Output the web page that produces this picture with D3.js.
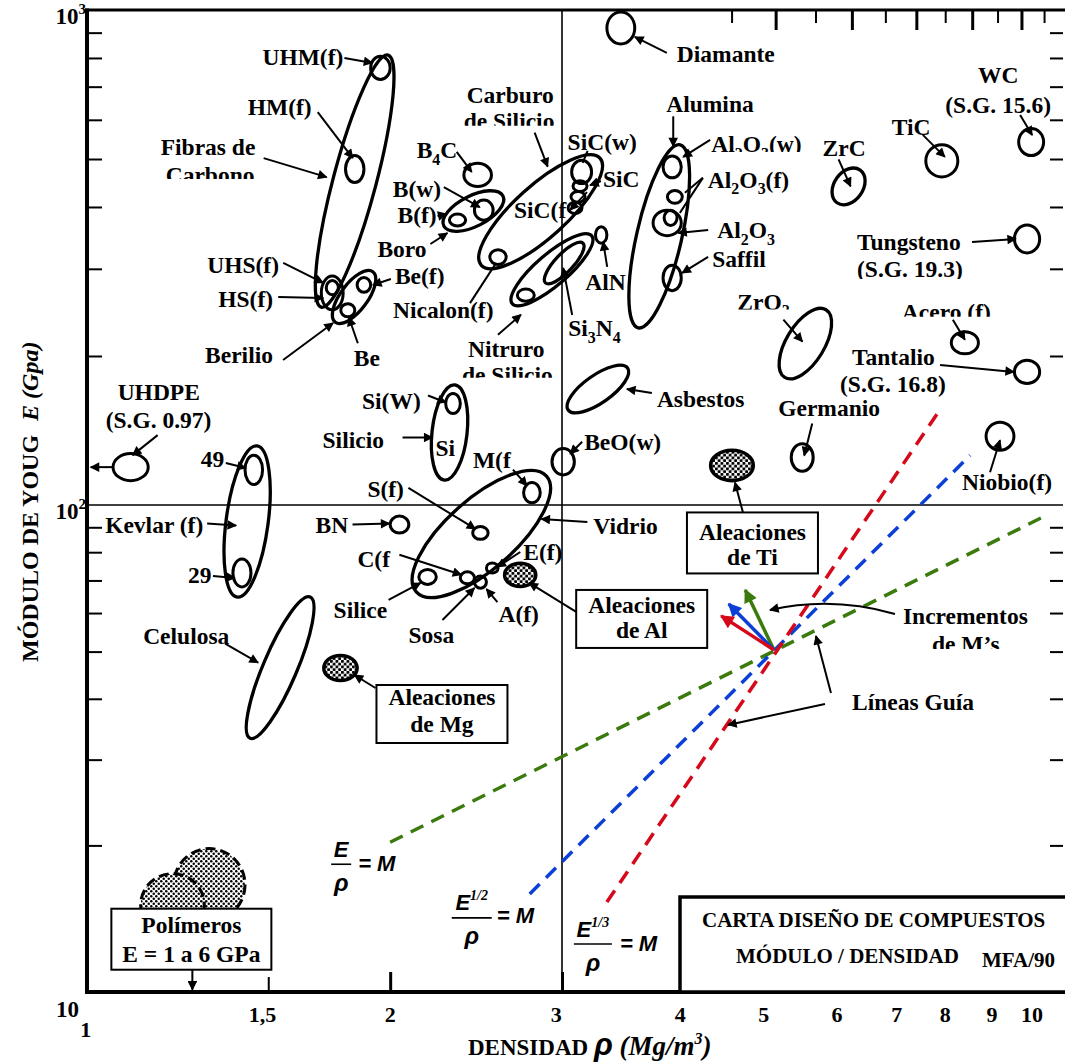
<!DOCTYPE html>
<html>
<head>
<meta charset="utf-8">
<script src="https://cdn.jsdelivr.net/npm/d3@7"></script>
<style>
  body { margin: 0; background: #fff; }
  svg { display: block; }
</style>
</head>
<body>
<svg id="chart" width="1065" height="1063"></svg>
<script>
// ---- axes (density in Mg/m3, Young's modulus in GPa) ----
const densityDomain = [0.978, 3, 9.94];        // the printed log scale is slightly uneven, so two pieces
const modulusDomain = [10, 100, 1000];
const densityMajor = [2, 3, 4, 5, 6, 7, 8, 9];
const densityMinor = [1.5, 4.5, 5.5, 6.5, 7.5, 8.5, 9.5];
const densityTopMajor = [5, 6, 7, 8, 9];
const densityTopMinor = [4.5, 5.5, 6.5, 7.5, 8.5, 9.5];
const densityTickLabels = ["1", "1,5", "2", "3", "4", "5", "6", "7", "8", "9", "10"];
const densityLabelAt = [0.975, 1.48, 2.0, 2.96, 3.98, 4.86, 5.79, 6.68, 7.5, 8.39, 9.23]; // where the figure prints them
const modulusTicks = [20, 30, 40, 50, 60, 70, 80, 90, 200, 300, 400, 500, 600, 700, 800, 900];
const modulusLabelVals = [10, 100, 1000];
const modulusLabelExp = ["", "2", "3"];

// ---- single materials: density range and modulus range ----
const bubbleIds = ["Diamante", "UHM", "HM", "UHSloop", "UHS", "Bef", "Be", "B4C", "Bw", "Bf",
  "SiCw", "SiCa", "SiCb", "SiCc", "Nicalon", "Si3N4small", "AlN", "Al2O3w", "Al2O3f", "Al2O3",
  "Al2O3core", "Saffil", "TiC", "WC", "W", "Acero", "Ta", "UHDPE", "K49", "K29",
  "SiW", "Mf", "Sf", "Silice", "Cf", "Af", "Ef", "BN", "BeO", "Ge", "Nb"];
const bubbleRho = [[3.34, 3.57], [1.91, 2.0], [1.8, 1.88], [1.7, 1.79], [1.72, 1.77], [1.85, 1.91], [1.78, 1.84], [2.38, 2.54], [2.44, 2.55], [2.3, 2.39],
  [3.07, 3.22], [3.08, 3.185], [3.065, 3.17], [3.044, 3.147], [2.53, 2.63], [2.7, 2.81], [3.25, 3.34], [3.82, 3.99], [3.86, 4.0], [3.73, 3.99],
  [3.83, 3.95], [3.82, 3.99], [7.16, 7.73], [8.94, 9.49], [8.85, 9.4], [7.61, 8.12], [8.85, 9.4], [1.04, 1.13], [1.42, 1.48], [1.38, 1.44],
  [2.28, 2.36], [2.74, 2.85], [2.43, 2.52], [2.14, 2.23], [2.36, 2.44], [2.44, 2.51], [2.51, 2.58], [2.0, 2.09], [2.93, 3.09], [5.19, 5.47], [8.27, 8.84]];
const bubbleE = [[854, 991], [724, 806], [448, 508], [248, 290], [266, 284], [269, 288], [240, 255], [440, 490], [376, 413], [366, 387],
  [446, 497], [430, 452], [409, 430], [388, 409], [306, 328], [258, 273], [338, 365], [458, 507], [407, 432], [350, 394],
  [367, 394], [271, 305], [460, 534], [508, 576], [323, 368], [202, 224], [176, 196], [112, 127], [110, 126], [67.9, 77.5],
  [153, 168], [101, 111], [85, 90.3], [68.7, 73.7], [68.9, 72.9], [67.5, 71.5], [72.5, 76.0], [87.6, 94.9], [115, 130], [117, 133], [129, 147]];

// ---- material families: long axis from one (rho, E) to another, and thickness ratio ----
const envelopeIds = ["carbon", "beryl", "boron", "sic", "nitride", "si3n4", "alumina", "zrc", "zro2", "kevlar", "silicon", "glass", "cellulose", "asbestos"];
const envelopeFrom = [[1.99, 811], [1.92, 296], [2.61, 421], [3.285, 502], [3.22, 350], [3.154, 338], [3.98, 534], [6.12, 475], [5.64, 248], [1.461, 131.6], [2.33, 174.8], [2.892, 114.4], [1.656, 64.7], [3.51, 189]];
const envelopeTo = [[1.7, 251], [1.757, 234], [2.27, 366], [2.48, 305], [2.668, 255], [2.885, 281], [3.6, 228], [5.79, 408], [5.11, 181], [1.394, 64.7], [2.272, 112.3], [2.127, 66.3], [1.437, 33.2], [3.044, 155.6]];
const envelopeSpread = [0.165, 0.43, 0.46, 0.325, 0.3, 0.33, 0.24, 0.72, 0.48, 0.276, 0.366, 0.4, 0.22, 0.38];

// ---- alloys and polymers (shaded) ----
const alloyIds = ["Mg", "Al", "Ti"];
const alloyRho = [[1.71, 1.85], [2.62, 2.82], [4.28, 4.74]];
const alloyE = [[43.6, 49.1], [68.0, 75.9], [112, 129]];
const polymerIds = ["polyA", "polyB"];
const polymerRho = [[1.2, 1.42], [1.11, 1.29]];
const polymerE = [[14.0, 19.7], [13.0, 17.5]];

// ---- guide lines E/rho, E^1/2/rho, E^1/3/rho ----
const guideExp = ["", "1/2", "1/3"];
const guideColor = ["#3b7a0c", "#0b3fd6", "#d6091a"];
const guideFrom = [[2.0, 20.3], [2.78, 15.9], [3.34, 15.3]];
const guideTo = [[9.61, 95.8], [7.96, 126], [7.36, 153]];
const incOrigin = [4.98, 50.4];
const incTips = [[4.65, 66.9], [4.47, 62.6], [4.39, 59.2]];   // green, blue, red
const incColor = ["#3b7a0c", "#0b3fd6", "#d6091a"];

const W = 1065, H = 1063, L = 87, R = 1063, T = 10, B = 992;
const SERIF = "'Liberation Serif','Times New Roman',serif";
const SANS = "'Liberation Sans',Arial,sans-serif";
const FS = 23.5;

const x = d3.scaleLog().domain(densityDomain).range([L, 562, R]);
const y = d3.scaleLog().domain(modulusDomain).range([B, 505, T]);

const svg = d3.select("#chart");
svg.append("rect").attr("width", W).attr("height", H).attr("fill", "#fff");
const defs = svg.append("defs");
const root = svg.append("g").attr("font-family", SERIF).attr("font-weight", "bold");

// arrow heads
function marker(id, color, size) {
  defs.append("marker").attr("id", id).attr("viewBox", "0 0 10 10")
    .attr("refX", 9).attr("refY", 5).attr("markerUnits", "userSpaceOnUse")
    .attr("markerWidth", size).attr("markerHeight", size * 0.8).attr("orient", "auto")
    .append("path").attr("d", "M0,0L10,5L0,10z").attr("fill", color);
}
marker("ah", "#000", 12);
incColor.forEach((c, i) => marker("inc" + i, c, 17));

// dotted fills
function dots(id, step, r) {
  const p = defs.append("pattern").attr("id", id).attr("width", step).attr("height", step)
    .attr("patternUnits", "userSpaceOnUse");
  p.append("rect").attr("width", step).attr("height", step).attr("fill", "#fff");
  p.append("circle").attr("cx", step / 4).attr("cy", step / 4).attr("r", r).attr("fill", "#000");
  p.append("circle").attr("cx", step * 3 / 4).attr("cy", step * 3 / 4).attr("r", r).attr("fill", "#000");
}
dots("dotsAlloy", 5.5, 1.6);
dots("dotsPoly", 5, 1.25);

// reference lines at rho = 3 and E = 100
root.append("line").attr("x1", x(3)).attr("x2", x(3)).attr("y1", T).attr("y2", B)
  .attr("stroke", "#000").attr("stroke-width", 1.6);
root.append("line").attr("x1", L).attr("x2", R).attr("y1", y(100)).attr("y2", y(100))
  .attr("stroke", "#000").attr("stroke-width", 1.6);

// ticks
function ticks(axis, tr, width) {
  root.append("g").attr("transform", tr).call(axis)
    .call(g => g.select(".domain").remove())
    .call(g => g.selectAll(".tick line").attr("stroke", "#000").attr("stroke-width", width))
    .call(g => g.selectAll(".tick text").remove());
}
ticks(d3.axisLeft(y).tickValues(modulusTicks).tickSizeInner(-15).tickSizeOuter(0).tickFormat(""), `translate(${L},0)`, 2);
ticks(d3.axisRight(y).tickValues(modulusTicks).tickSizeInner(-13).tickSizeOuter(0).tickFormat(""), `translate(${R},0)`, 2);
ticks(d3.axisBottom(x).tickValues(densityMajor).tickSizeInner(-20).tickSizeOuter(0).tickFormat(""), `translate(0,${B})`, 3);
ticks(d3.axisBottom(x).tickValues(densityMinor).tickSizeInner(-15).tickSizeOuter(0).tickFormat(""), `translate(0,${B})`, 2);
ticks(d3.axisTop(x).tickValues(densityTopMajor).tickSizeInner(-20).tickSizeOuter(0).tickFormat(""), `translate(0,${T})`, 3);
ticks(d3.axisTop(x).tickValues(densityTopMinor).tickSizeInner(-13).tickSizeOuter(0).tickFormat(""), `translate(0,${T})`, 2);

// frame
root.append("line").attr("x1", L).attr("x2", L).attr("y1", T - 1.5).attr("y2", B + 2).attr("stroke", "#000").attr("stroke-width", 4);
root.append("line").attr("x1", L - 2).attr("x2", W).attr("y1", B).attr("y2", B).attr("stroke", "#000").attr("stroke-width", 4);
root.append("line").attr("x1", L - 2).attr("x2", W).attr("y1", T).attr("y2", T).attr("stroke", "#000").attr("stroke-width", 3);

// tick labels
densityTickLabels.forEach((t, i) => {
  root.append("text").attr("x", x(densityLabelAt[i])).attr("y", B + (i === 0 ? 45 : 30))
    .attr("text-anchor", "middle").attr("font-size", 22).text(t);
});
modulusLabelVals.forEach((v, i) => {
  const t = root.append("text").attr("x", v === 10 ? L - 8 : L - 1).attr("y", y(v) + (v === 10 ? 25 : 14))
    .attr("text-anchor", "end").attr("font-size", 23).text("10");
  if (modulusLabelExp[i]) t.append("tspan").attr("dy", -10).attr("font-size", 15).text(modulusLabelExp[i]);
});

// axis titles
const xt = root.append("text").attr("x", 468).attr("y", 1055).attr("font-size", 23);
xt.append("tspan").text("DENSIDAD ");
xt.append("tspan").attr("font-family", SANS).attr("font-style", "italic").attr("font-size", 31).text("ρ");
xt.append("tspan").attr("font-style", "italic").attr("font-size", 27).text(" (Mg/m");
xt.append("tspan").attr("font-style", "italic").attr("font-size", 16).attr("dy", -11).text("3");
xt.append("tspan").attr("font-style", "italic").attr("font-size", 27).attr("dy", 11).text(")");
const yt = root.append("text").attr("transform", "translate(38,662) rotate(-90)").attr("font-size", 24);
yt.append("tspan").text("MÓDULO DE YOUG");
yt.append("tspan").attr("font-style", "italic").attr("dx", 14).text("E (Gpa)");

// guide lines
const gGuide = root.append("g");
guideFrom.forEach((p, i) => {
  gGuide.append("line").attr("x1", x(p[0])).attr("y1", y(p[1]))
    .attr("x2", x(guideTo[i][0])).attr("y2", y(guideTo[i][1]))
    .attr("stroke", guideColor[i]).attr("stroke-width", 3.5).attr("stroke-dasharray", "14,9");
});

// marks
const centers = {};
const gMarks = root.append("g").attr("fill", "none").attr("stroke", "#000");
polymerIds.forEach((k, i) => {
  const [r0, r1] = polymerRho[i], [e0, e1] = polymerE[i];
  centers[k] = [(x(r0) + x(r1)) / 2, (y(e0) + y(e1)) / 2];
  gMarks.append("ellipse").attr("cx", centers[k][0]).attr("cy", centers[k][1])
    .attr("rx", (x(r1) - x(r0)) / 2).attr("ry", (y(e0) - y(e1)) / 2)
    .attr("fill", "url(#dotsPoly)").attr("stroke-width", 3).attr("stroke-dasharray", "10,5");
});
bubbleIds.forEach((k, i) => {
  const [r0, r1] = bubbleRho[i], [e0, e1] = bubbleE[i];
  centers[k] = [(x(r0) + x(r1)) / 2, (y(e0) + y(e1)) / 2];
  gMarks.append("ellipse").attr("cx", centers[k][0]).attr("cy", centers[k][1])
    .attr("rx", (x(r1) - x(r0)) / 2).attr("ry", (y(e0) - y(e1)) / 2).attr("stroke-width", 3);
});
envelopeIds.forEach((k, i) => {
  const x1 = x(envelopeFrom[i][0]), y1 = y(envelopeFrom[i][1]);
  const x2 = x(envelopeTo[i][0]), y2 = y(envelopeTo[i][1]);
  const a = Math.hypot(x2 - x1, y2 - y1) / 2;
  const ang = Math.atan2(y2 - y1, x2 - x1) * 180 / Math.PI;
  centers[k] = [(x1 + x2) / 2, (y1 + y2) / 2];
  gMarks.append("ellipse").attr("transform", `translate(${centers[k]}) rotate(${ang})`)
    .attr("rx", a).attr("ry", a * envelopeSpread[i]).attr("stroke-width", 3.3);
});
alloyIds.forEach((k, i) => {
  const [r0, r1] = alloyRho[i], [e0, e1] = alloyE[i];
  centers[k] = [(x(r0) + x(r1)) / 2, (y(e0) + y(e1)) / 2];
  gMarks.append("ellipse").attr("cx", centers[k][0]).attr("cy", centers[k][1])
    .attr("rx", (x(r1) - x(r0)) / 2).attr("ry", (y(e0) - y(e1)) / 2)
    .attr("fill", "url(#dotsAlloy)").attr("stroke-width", 3.5);
});
centers.origin = [x(incOrigin[0]), y(incOrigin[1])];

// increment arrows
incTips.forEach((p, i) => {
  root.append("line").attr("x1", centers.origin[0]).attr("y1", centers.origin[1])
    .attr("x2", x(p[0])).attr("y2", y(p[1])).attr("stroke", incColor[i]).attr("stroke-width", 3.5)
    .attr("marker-end", `url(#inc${i})`);
});

// text with _n subscripts
function rich(t, str, fs) {
  let shift = 0;
  str.split(/(_\d)/).filter(s => s).forEach(p => {
    const sub = p[0] === "_";
    const ts = t.append("tspan").text(sub ? p.slice(1) : p);
    const want = sub ? fs * 0.28 : 0;
    if (want !== shift) { ts.attr("dy", want - shift); shift = want; }
    if (sub) ts.attr("font-size", fs * 0.68);
  });
}

// callouts: offsets in px from the centre of the mark they point at
// [mark, [[text, dx, dy, anchor, clip below baseline]], [[x1, y1, x2, y2, head]]]
const callouts = [
  ["UHM", [["UHM(f)", -118, -3]], [[-36, -10, -8, -5]]],
  ["HM", [["HM(f)", -107, -54]], [[-37, -57, -2, -11]]],
  ["carbon", [["Fibras de", -194, -26], ["Carbono", -189, 2, "start", -4]], [[-91, -23, -28, -4]]],
  ["UHSloop", [["UHS(f)", -125, -20]], [[-49, -30, -9, -10]]],
  ["UHSloop", [["HS(f)", -114, 14]], [[-54, 4, -9, 5]]],
  ["beryl", [["Berilio", -149, 66]], [[-71, 63, -21, 26]]],
  ["Be", [["Be", 6, 56]], [[10, 33, 1, 7]]],
  ["Bef", [["Be(f)", 31, -1]], [[27, -6, 9, 0]]],
  ["boron", [["Boro", -96, 46]], [[-43, 33, -26, 22]]],
  ["Bf", [["B(f)", -60, 3]], [[-20, -4, -11, -6]]],
  ["Bw", [["B(w)", -91, -13]], [[-40, -23, -4, -3]]],
  ["B4C", [["B_4C", -61, -17]], [[-21, -23, -6, -3]]],
  ["sic", [["Carburo", -74, -109], ["de Silicio", -77, -83, "start", -3]], [[-6, -79, 7, -45]]],
  ["SiCw", [["SiC(w)", -14, -22]], [[6, -21, 1, -9, 0]]],
  ["SiCa", [["SiC", 23, 1]], [[21, -5, 10, -1]]],
  ["SiCa", [["SiC(f", -66, 32]], [[7, 6, -10, 24]]],
  ["Nicalon", [["Nicalon(f)", -105, 61]], [[-28, 46, -2, 6, 0]]],
  ["nitride", [["Nitruro", -84, 87], ["de Silicio", -90, 113, "start", -5]], [[-54, 65, -31, 45]]],
  ["si3n4", [["Si_3N_4", 4, 73]], [[8, 52, -1, 5]]],
  ["AlN", [["AlN", -16, 55]], [[6, 32, 2, 7]]],
  ["Diamante", [["Diamante", 56, 34, "start", 1]], [[46, 25, 14, 9]]],
  ["alumina", [["Alumina", 7, -124]], [[14, -120, 14, -90]]],
  ["Al2O3w", [["Al_2O_3(w)", 39, -15, "start", 0]], [[38, -27, 11, -10]]],
  ["Al2O3f", [["Al_2O_3(f)", 33, -9]], [[28, -19, 10, -4, 0], [28, -19, 5, 16, 0]]],
  ["Al2O3", [["Al_2O_3", 50, 15]], [[41, 7, 11, 10]]],
  ["Saffil", [["Saffil", 40, -11]], [[36, -21, 10, -5]]],
  ["zrc", [["ZrC", -26, -30]], [[-10, -27, 2, 0]]],
  ["TiC", [["TiC", -50, -26]], [[-19, -26, 3, -4]]],
  ["WC", [["WC", -33, -59, "middle"], ["(S.G. 15.6)", -33, -29, "middle"]], [[-11, -27, 1, -7]]],
  ["W", [["Tungsteno", -170, 11], ["(S.G. 19.3)", -170, 38, "start", 2]], [[-55, 3, -11, 0]]],
  ["zro2", [["ZrO_2", -68, -34, "start", 0]], [[-22, -24, -3, -2]]],
  ["Acero", [["Acero (f)", -63, -23, "start", -3]], [[-12, -23, 0, -3]]],
  ["Ta", [["Tantalio", -175, -7], ["(S.G. 16.8)", -187, 20]], [[-87, -7, -13, 0]]],
  ["UHDPE", [["UHDPE", -13, -67], ["(S.G. 0.97)", -25, -39]], [[27, -32, 2, -12], [-17, 0, -40, 0]]],
  ["K49", [["49", -53, -3]], [[-28, -7, -8, -2]]],
  ["kevlar", [["Kevlar (f)", -142, 11]], [[-40, 2, -11, 4]]],
  ["K29", [["29", -54, 10]], [[-29, 3, -7, 5]]],
  ["SiW", [["Si(W)", -91, 5]], [[-25, -8, -7, -1]]],
  ["silicon", [["Silicio", -127, 15], ["Si", -14, 23]], [[-47, 5, -17, 5]]],
  ["Mf", [["M(f", -59, -25]], [[-19, -23, -5, -7]]],
  ["Sf", [["S(f)", -113, -36]], [[-72, -45, -5, -4]]],
  ["BN", [["BN", -84, 8]], [[-47, 0, -10, -1]]],
  ["Cf", [["C(f", -110, -11]], [[-68, -23, -6, -3]]],
  ["Silice", [["Silice", -94, 41]], [[-39, 23, -7, 6]]],
  ["Af", [["Sosa", -72, 61]], [[-38, 38, -6, 6]]],
  ["Ef", [["E(f)", 31, -8]], [[28, -16, 5, -1]]],
  ["Af", [["A(f)", 18, 40]], [[17, 20, 6, 7]]],
  ["glass", [["Vidrio", 112, 0]], [[106, -12, 60, -15]]],
  ["cellulose", [["Celulosa", -137, -24]], [[-55, -24, -22, -5]]],
  ["asbestos", [["Asbestos", 59, 18]], [[54, 4, 29, 0]]],
  ["BeO", [["BeO(w)", 21, -12]], [[19, -20, 7, -8]]],
  ["Ge", [["Germanio", -24, -41]], [[10, -34, 2, -2]]],
  ["Nb", [["Niobio(f)", -38, 54]], [[-10, 36, 0, 4]]],
  ["origin", [["Incrementos", 129, -26], ["de M’s", 158, 2, "start", -3]], []],
  ["origin", [["Líneas Guía", 78, 60]], [[57, 43, 42, -14], [51, 54, -46, 75]]]
];

const gArrows = root.append("g").attr("stroke", "#000").attr("stroke-width", 2);
const gText = root.append("g");
callouts.forEach(([key, lines, arrows], ci) => {
  const [cx, cy] = centers[key];
  lines.forEach(([txt, dx, dy, anchor, clipDy], li) => {
    const t = gText.append("text").attr("x", cx + dx).attr("y", cy + dy)
      .attr("text-anchor", anchor || "start").attr("font-size", FS);
    rich(t, txt, FS);
    if (clipDy !== undefined) {
      const id = `clip${ci}_${li}`;
      defs.append("clipPath").attr("id", id).append("rect")
        .attr("x", 0).attr("y", 0).attr("width", W).attr("height", cy + dy + clipDy);
      t.attr("clip-path", `url(#${id})`);
    }
  });
  arrows.forEach(([x1, y1, x2, y2, head]) => {
    gArrows.append("line").attr("x1", cx + x1).attr("y1", cy + y1).attr("x2", cx + x2).attr("y2", cy + y2)
      .attr("marker-end", head === 0 ? null : "url(#ah)");
  });
});

// curved pointer to the increment arrows
{
  const [ox, oy] = centers.origin;
  gArrows.append("path").attr("fill", "none")
    .attr("d", `M${ox + 121},${oy - 36}Q${ox + 58},${oy - 54} ${ox - 4},${oy - 40}`)
    .attr("marker-end", "url(#ah)");
}

// boxed callouts: [mark, box [dx, dy, w, h], lines, baselines, arrow]
const boxCallouts = [
  ["Mg", [36, 17, 131, 58], ["Aleaciones", "de Mg"], [37, 64], [35, 20, 14, 7]],
  ["Al", [56, 15, 131, 58], ["Aleaciones", "de Al"], [38, 63], [56, 37, 9, 8]],
  ["Ti", [-45, 47, 131, 61], ["Aleaciones", "de Ti"], [75, 100], [11, 47, 3, 17]],
  ["polyA", [-98, 24, 160, 61], ["Polímeros", "E = 1 a 6 GPa"], [48, 77], [-17, 85, -17, 105]]
];
boxCallouts.forEach(([key, [bx, by, bw, bh], lines, bases, a]) => {
  const [cx, cy] = centers[key];
  root.append("rect").attr("x", cx + bx).attr("y", cy + by).attr("width", bw).attr("height", bh)
    .attr("fill", "#fff").attr("stroke", "#000").attr("stroke-width", 2);
  lines.forEach((s, i) => root.append("text").attr("x", cx + bx + bw / 2).attr("y", cy + bases[i])
    .attr("text-anchor", "middle").attr("font-size", 23.5).text(s));
  root.append("line").attr("x1", cx + a[0]).attr("y1", cy + a[1]).attr("x2", cx + a[2]).attr("y2", cy + a[3])
    .attr("stroke", "#000").attr("stroke-width", 2).attr("marker-end", "url(#ah)");
});

// formulas at the lower end of each guide line
const formulaLayout = [
  { cx: -49, w: 20, num: 15, bar: 22, den: 49, eqx: -32, eqy: 29 },
  { cx: -58, w: 40, num: 16, bar: 24, den: 50, eqx: -33, eqy: 29 },
  { cx: -14, w: 38, num: 35, bar: 42, den: 69, eqx: 13, eqy: 49 }
];
guideFrom.forEach((p, i) => {
  const gx = x(p[0]), gy = y(p[1]), f = formulaLayout[i];
  const g = root.append("g").attr("font-family", SANS).attr("font-style", "italic");
  const num = g.append("text").attr("x", gx + f.cx).attr("y", gy + f.num).attr("text-anchor", "middle").attr("font-size", 22);
  num.append("tspan").text("E");
  if (guideExp[i]) num.append("tspan").attr("font-family", SERIF).attr("font-size", 14).attr("dy", -10).text(guideExp[i]);
  g.append("line").attr("x1", gx + f.cx - f.w / 2).attr("x2", gx + f.cx + f.w / 2)
    .attr("y1", gy + f.bar).attr("y2", gy + f.bar).attr("stroke", "#000").attr("stroke-width", 1.6);
  g.append("text").attr("x", gx + f.cx).attr("y", gy + f.den).attr("text-anchor", "middle").attr("font-size", 24).text("ρ");
  g.append("text").attr("x", gx + f.eqx).attr("y", gy + f.eqy).attr("font-size", 22).text("= M");
});

// title block
{
  const bw = 390, bh = 95, bx = R - 383, by = B - bh;
  root.append("rect").attr("x", bx).attr("y", by).attr("width", bw).attr("height", bh)
    .attr("fill", "#fff").attr("stroke", "#000").attr("stroke-width", 3.5);
  root.append("text").attr("x", bx + 22).attr("y", by + 30).attr("font-size", 21).text("CARTA DISEÑO DE COMPUESTOS");
  root.append("text").attr("x", bx + 56).attr("y", by + 66).attr("font-size", 21).text("MÓDULO / DENSIDAD");
  root.append("text").attr("x", bx + 302).attr("y", by + 70).attr("font-size", 21).text("MFA/90");
}
</script>
</body>
</html>
